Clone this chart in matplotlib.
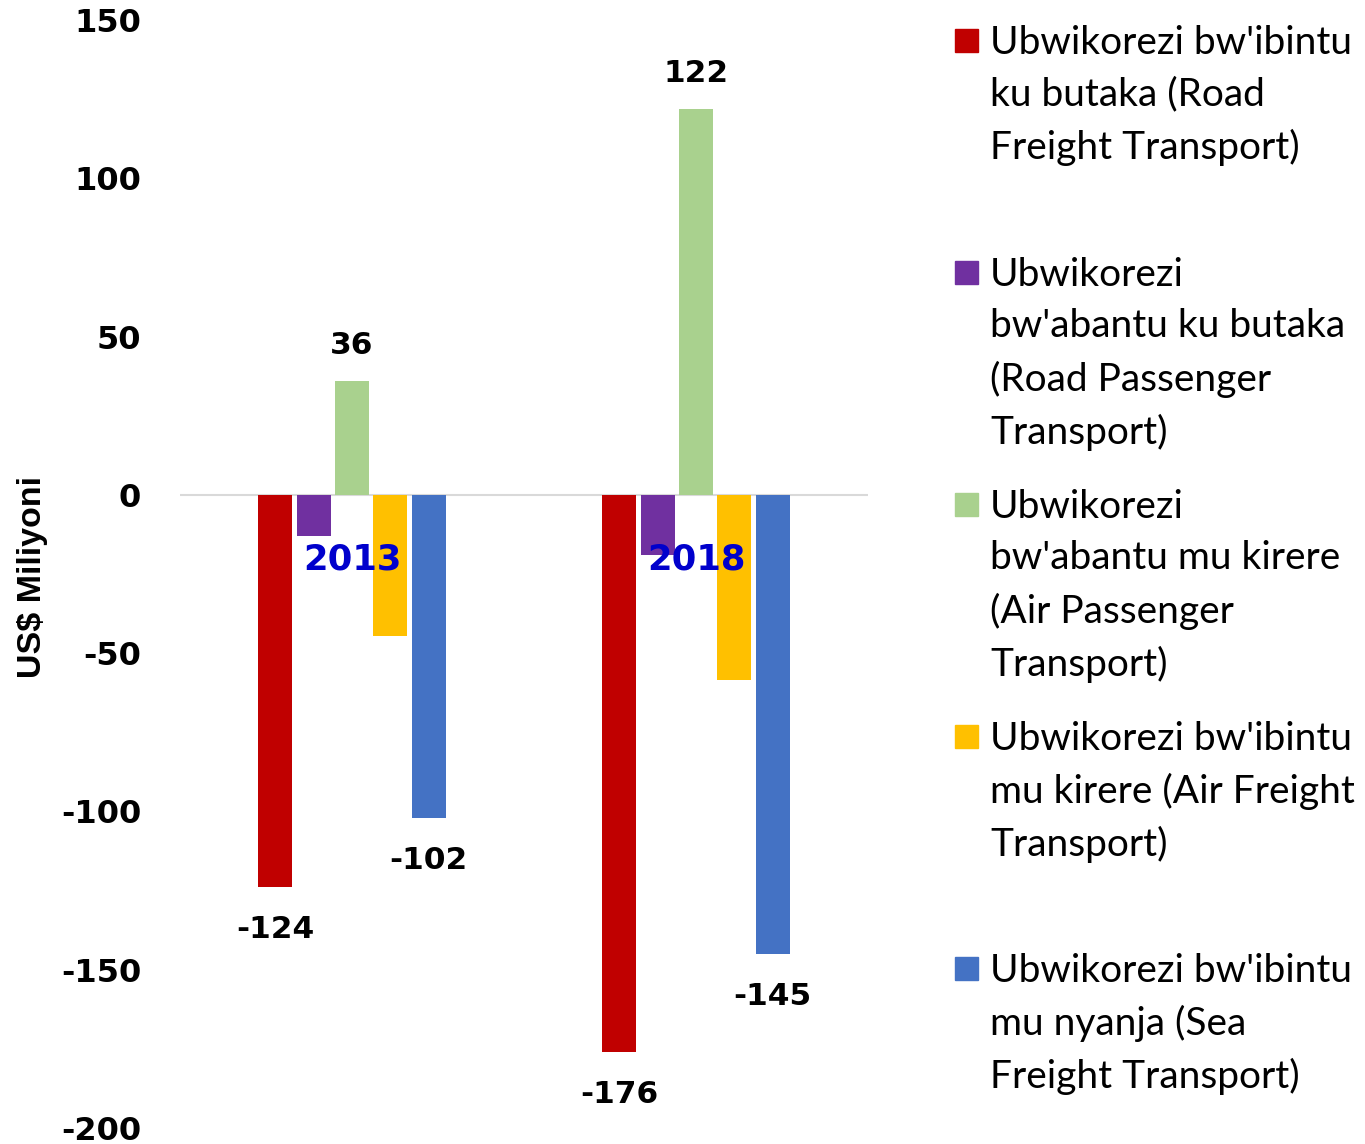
import matplotlib
matplotlib.use("Agg")
import matplotlib.pyplot as plt
import numpy as np
from matplotlib.patches import Rectangle

years = ["2013", "2018"]
series_names = [
    "Ubwikorezi bw'ibintu\nku butaka (Road\nFreight Transport)",
    "Ubwikorezi\nbw'abantu ku butaka\n(Road Passenger\nTransport)",
    "Ubwikorezi\nbw'abantu mu kirere\n(Air Passenger\nTransport)",
    "Ubwikorezi bw'ibintu\nmu kirere (Air Freight\nTransport)",
    "Ubwikorezi bw'ibintu\nmu nyanja (Sea\nFreight Transport)",
]
road_freight = [-124, -176]
road_passenger = [-13, -19]
air_passenger = [36, 122]
air_freight = [-44.5, -58.5]
sea_freight = [-102, -145]
values = [road_freight, road_passenger, air_passenger, air_freight, sea_freight]
colors = ["#C00000", "#7030A0", "#A9D18E", "#FFC000", "#4472C4"]
show_labels = [True, False, True, False, True]
yticks = [150, 100, 50, 0, -50, -100, -150, -200]

W, H = 1365, 1144
fig = plt.figure(figsize=(W / 100, H / 100), dpi=100)
ax = fig.add_axes([180 / W, 1 - 1128 / H, 688 / W, 1108 / H])

x = np.arange(len(years))
slot = 0.1114
bw = 0.099
for i, (vals, c) in enumerate(zip(values, colors)):
    pos = x + (i - 2) * slot
    ax.bar(pos, vals, width=bw, color=c, zorder=2)
    if show_labels[i]:
        for p, v in zip(pos, vals):
            if v >= 0:
                ax.annotate(f"{v:g}", (p, v), xytext=(0, 15), textcoords="offset points",
                            ha="center", va="bottom", fontsize=22.5, fontweight="bold")
            else:
                ax.annotate(f"{v:g}", (p, v), xytext=(0, -20), textcoords="offset points",
                            ha="center", va="top", fontsize=22.5, fontweight="bold")

for xi, yr in zip(x, years):
    ax.text(xi, -20.5, yr, ha="center", va="center", fontsize=25.5, fontweight="bold",
            color="#0000CC", zorder=3)

ax.axhline(0, color="#D9D9D9", linewidth=1.5, zorder=1)
ax.set_xlim(-0.5, 1.5)
ax.set_ylim(-200, 150)
ax.set_yticks(yticks)
ax.set_yticklabels([str(t) for t in yticks], fontsize=23, fontweight="bold")
ax.tick_params(axis="y", length=0, pad=28)
ax.set_xticks([])
for s in ax.spines.values():
    s.set_visible(False)

fig.text(33 / W, 1 - 577 / H, "US$ Miliyoni", rotation=90, ha="center", va="center",
         fontsize=24.5, fontweight="bold", family="Liberation Sans")

tops = [40, 272, 504, 736, 968]
for name, c, t in zip(series_names, colors, tops):
    fig.patches.append(Rectangle((955 / W, 1 - (t + 12) / H), 23 / W, 23 / H,
                                 transform=fig.transFigure, color=c, figure=fig))
    fig.text(990 / W, 1 - (t - 15) / H, name, ha="left", va="top", fontsize=28,
             family="Lato", linespacing=1.53)

fig.savefig("out.png", dpi=100)
